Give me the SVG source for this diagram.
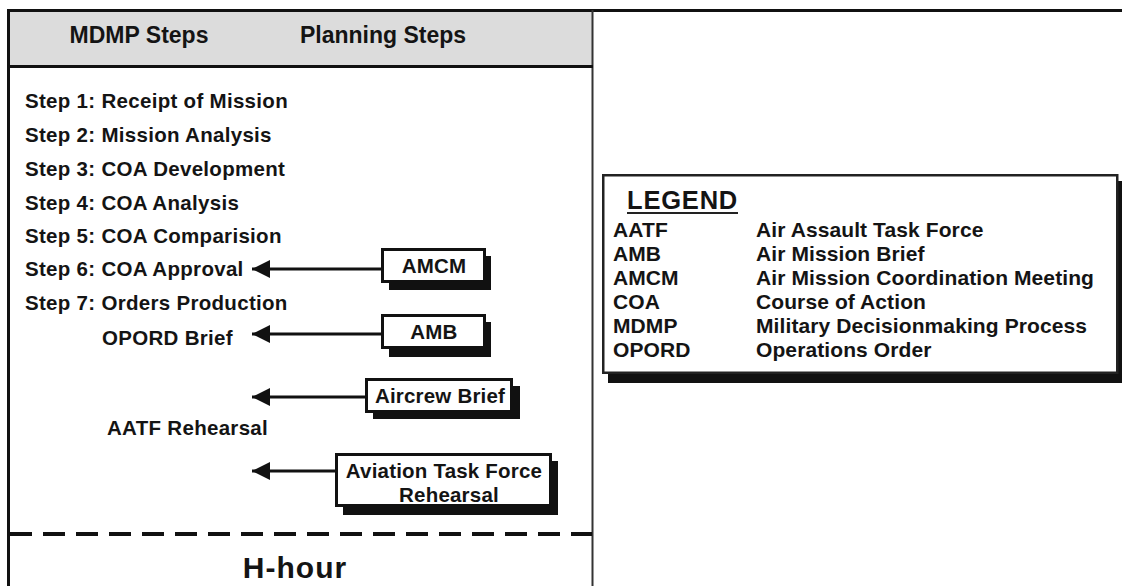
<svg xmlns="http://www.w3.org/2000/svg" width="1122" height="586" viewBox="0 0 1122 586">
<style>
  text { font-family: "Liberation Sans", Arial, sans-serif; font-weight: bold; fill: #141414; }
  .hdr { font-size: 23px; text-anchor: middle; }
  .step { font-size: 20.5px; letter-spacing: 0.3px; }
  .box { fill: #ffffff; stroke: #111111; stroke-width: 3; }
  .shadow { fill: #111111; }
  .btxt { font-size: 20.5px; letter-spacing: 0.2px; text-anchor: middle; }
  .leg { font-size: 21px; letter-spacing: 0.1px; }
  .conn { stroke: #111111; stroke-width: 3; fill: none; }
</style>
<defs>
  <marker id="ah" markerUnits="userSpaceOnUse" markerWidth="20" markerHeight="20" refX="18" refY="9" orient="auto">
    <path d="M0,0 L18,9 L0,18 Z" fill="#111111"/>
  </marker>
</defs>
<rect x="0" y="0" width="1122" height="586" fill="#ffffff"/>

<g id="frame">
  <rect x="8" y="11" width="584" height="55" fill="#dcdcdc"/>
  <line x1="7" y1="10.5" x2="1122" y2="10.5" stroke="#111" stroke-width="3"/>
  <line x1="8.5" y1="9" x2="8.5" y2="586" stroke="#111" stroke-width="3"/>
  <line x1="592.5" y1="10" x2="592.5" y2="586" stroke="#333" stroke-width="2"/>
  <line x1="8" y1="66.5" x2="593" y2="66.5" stroke="#111" stroke-width="3"/>
  <line x1="10" y1="534" x2="592" y2="534" stroke="#111" stroke-width="4" stroke-dasharray="22 11"/>
</g>

<g id="header">
  <text class="hdr" x="139" y="43">MDMP Steps</text>
  <text class="hdr" x="383" y="43">Planning Steps</text>
</g>

<g id="mdmp-steps">
  <text class="step" x="25" y="108">Step 1: Receipt of Mission</text>
  <text class="step" x="25" y="142">Step 2: Mission Analysis</text>
  <text class="step" x="25" y="176">Step 3: COA Development</text>
  <text class="step" x="25" y="210">Step 4: COA Analysis</text>
  <text class="step" x="25" y="243">Step 5: COA Comparision</text>
  <text class="step" x="25" y="276">Step 6: COA Approval</text>
  <text class="step" x="25" y="310">Step 7: Orders Production</text>
  <text class="step" x="102" y="345">OPORD Brief</text>
  <text class="step" x="107" y="435">AATF Rehearsal</text>
</g>

<g id="connectors">
  <line class="conn" x1="382" y1="269" x2="252" y2="269" marker-end="url(#ah)"/>
  <line class="conn" x1="382" y1="334" x2="252" y2="334" marker-end="url(#ah)"/>
  <line class="conn" x1="366" y1="397" x2="252" y2="397" marker-end="url(#ah)"/>
  <line class="conn" x1="336" y1="471" x2="252" y2="471" marker-end="url(#ah)"/>
</g>

<g id="amcm">
  <rect class="shadow" x="389" y="256" width="102" height="34"/>
  <rect class="box" x="382.5" y="249.5" width="102" height="32"/>
  <text class="btxt" x="434" y="273">AMCM</text>
</g>

<g id="amb">
  <rect class="shadow" x="389" y="322" width="102" height="35"/>
  <rect class="box" x="382.5" y="315.5" width="102" height="32"/>
  <text class="btxt" x="434" y="339">AMB</text>
</g>

<g id="aircrew-brief">
  <rect class="shadow" x="373" y="386" width="147" height="33"/>
  <rect class="box" x="366.5" y="379.5" width="145" height="32"/>
  <text class="btxt" x="440" y="403">Aircrew Brief</text>
</g>

<g id="aviation-tf-rehearsal">
  <rect class="shadow" x="343" y="461" width="215" height="54"/>
  <rect class="box" x="336.5" y="454.5" width="214" height="51"/>
  <text class="btxt" x="444" y="478">Aviation Task Force</text>
  <text class="btxt" x="449" y="502">Rehearsal</text>
</g>

<g id="h-hour">
  <text x="295" y="578" style="font-size:30px; letter-spacing:1px; text-anchor:middle;">H-hour</text>
</g>

<g id="legend">
  <rect class="shadow" x="608" y="181" width="520" height="202"/>
  <rect x="603.25" y="175.25" width="514" height="197.5" fill="#ffffff" stroke="#222" stroke-width="2.5"/>
  <text x="627" y="209" style="font-size:25.5px; letter-spacing:0.8px;">LEGEND</text>
  <line x1="627" y1="213" x2="738" y2="213" stroke="#222" stroke-width="2"/>
  <text class="leg" x="613" y="237">AATF</text>
  <text class="leg" x="756" y="237">Air Assault Task Force</text>
  <text class="leg" x="613" y="261">AMB</text>
  <text class="leg" x="756" y="261">Air Mission Brief</text>
  <text class="leg" x="613" y="285">AMCM</text>
  <text class="leg" x="756" y="285">Air Mission Coordination Meeting</text>
  <text class="leg" x="613" y="309">COA</text>
  <text class="leg" x="756" y="309">Course of Action</text>
  <text class="leg" x="613" y="333">MDMP</text>
  <text class="leg" x="756" y="333">Military Decisionmaking Process</text>
  <text class="leg" x="613" y="357">OPORD</text>
  <text class="leg" x="756" y="357">Operations Order</text>
</g>
</svg>
